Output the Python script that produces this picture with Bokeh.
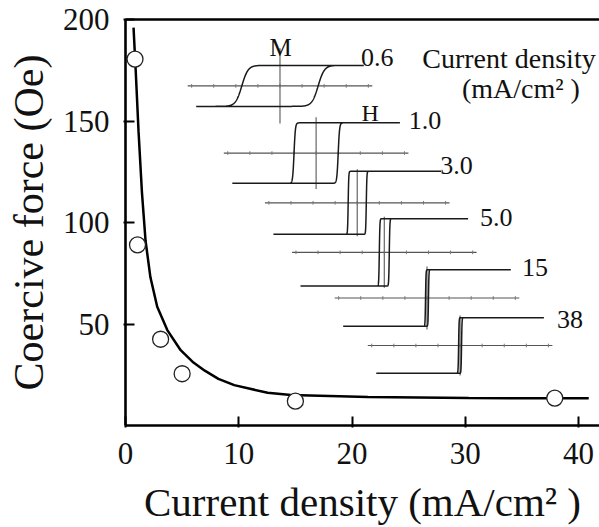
import numpy as np
from bokeh.plotting import figure
from bokeh.models import Range1d, LinearAxis, FixedTicker, Label
from bokeh.embed import file_html
from bokeh.resources import INLINE

# ---- data ----
point_density = [0.84, 1.06, 3.1, 5.0, 15.0, 37.9]
point_coercive = [180.5, 89.0, 42.5, 25.5, 12.0, 13.5]

fit_density = [0.71, 0.9, 1.15, 1.45, 1.77, 2.2, 2.8, 3.69, 4.87, 6.0, 7.0, 8.2, 9.6,
               12.55, 14.6, 21.4, 30.3, 40.9]
fit_coercive = [196, 175, 145, 115, 91, 73, 58.5, 47, 37.1, 31.0, 27.0, 23.0, 19.9,
                16.1, 15.0, 14.0, 13.5, 13.4]

x_ticks = [0, 10, 20, 30, 40]
y_ticks = [50, 100, 150, 200]

# hysteresis-loop insets (one per current density)
loop_labels = ["0.6", "1.0", "3.0", "5.0", "15", "38"]
loop_hc = [3.37, 1.95, 0.80, 0.44, 0.13, 0.13]        # coercive half-width (inset H units)
loop_height = [10.1, 14.9, 15.5, 16.6, 13.9, 13.7]    # saturation half-height
loop_soft = [0.55, 0.12, 0.05, 0.05, 0.04, 0.04]      # transition softness

# ---- layout of the insets (data coords of the plot) ----
loop_cx = [13.64, 16.83, 20.46, 22.85, 26.62, 29.54]
loop_cy = [167.3, 134.2, 109.7, 85.3, 62.8, 39.4]
loop_mext = [18.5, 17.7, 16.5, 17.5, 15.5, 14.8]
label_x = [20.8, 25.0, 27.8, 31.3, 35.0, 38.1]
label_y = [181.3, 150.3, 128.0, 102.5, 78.0, 52.0]
LOOP_L = 7.4
HAXIS_L = 8.15

FONT = "Liberation Serif"

p = figure(width=599, height=527, output_backend="svg", toolbar_location=None,
           x_range=Range1d(0, 41.85), y_range=Range1d(0, 200),
           min_border_left=125, min_border_right=0, min_border_top=19,
           min_border_bottom=101)
p.outline_line_color = None
p.grid.visible = False
p.background_fill_color = "white"
p.border_fill_color = "white"

for ax, ticks in ((p.xaxis[0], x_ticks), (p.yaxis[0], y_ticks)):
    ax.ticker = FixedTicker(ticks=ticks)
    ax.minor_tick_line_color = None
    ax.major_tick_in = 9
    ax.major_tick_out = 2
    ax.axis_line_width = 2.6
    ax.major_tick_line_width = 2
    ax.axis_line_color = "black"
    ax.major_tick_line_color = "black"
    ax.major_label_text_font = FONT
    ax.major_label_text_font_size = "31px"
    ax.major_label_text_color = "#111111"
    ax.axis_label_text_font = FONT
    ax.axis_label_text_font_size = "41px"
    ax.axis_label_text_font_style = "normal"
    ax.axis_label_text_color = "#111111"
p.xaxis[0].major_label_standoff = 15
p.yaxis[0].major_label_standoff = 14
p.xaxis[0].axis_label = "Current density (mA/cm² )"
p.xaxis[0].axis_label_standoff = 12
p.yaxis[0].axis_label = "Coercive force (Oe)"
p.yaxis[0].axis_label_text_font_size = "42px"
p.yaxis[0].axis_label_standoff = 8

top = LinearAxis(ticker=FixedTicker(ticks=[]), axis_line_width=2.6,
                 major_tick_in=0, major_tick_out=0, minor_tick_in=0, minor_tick_out=0,
                 major_label_standoff=0, axis_label_standoff=0,
                 major_label_text_font_size="0px")
p.add_layout(top, "above")

# insets
for i in range(len(loop_labels)):
    cx, cy = loop_cx[i], loop_cy[i]
    h, hc, w = loop_height[i], loop_hc[i], loop_soft[i]
    # H axis
    p.line([cx - HAXIS_L, cx + HAXIS_L], [cy, cy], line_color="#555555", line_width=1.2)
    tk = cx + 1.95 * np.arange(-4, 5)
    p.segment(x0=tk, y0=np.full(9, cy - 0.9), x1=tk, y1=np.full(9, cy + 0.9),
              line_color="#777777", line_width=1)
    # M axis
    p.line([cx, cx], [cy - loop_mext[i], cy + loop_mext[i]], line_color="#666666", line_width=1.2)
    # loop
    H = np.linspace(-LOOP_L, LOOP_L, 1501)
    up = h * np.tanh((H - hc) / w)
    down = h * np.tanh((H + hc) / w)
    xs = np.concatenate([H, H[::-1]]) + cx
    ys = np.concatenate([up, down[::-1]]) + cy
    p.line(xs, ys, line_color="#1a1a1a", line_width=1.5)
    p.add_layout(Label(x=label_x[i], y=label_y[i], text=loop_labels[i],
                       text_font=FONT, text_font_size="26px", text_color="#111111",
                       text_align="left", text_baseline="alphabetic"))

p.add_layout(Label(x=13.7, y=186.0, text="M", text_font=FONT, text_font_size="25px",
                   text_color="#111111", text_align="center", text_baseline="alphabetic"))
p.add_layout(Label(x=21.6, y=154.0, text="H", text_font=FONT, text_font_size="24px",
                   text_color="#111111", text_align="center", text_baseline="alphabetic"))
p.add_layout(Label(x=26.2, y=180.8, text="Current density", text_font=FONT,
                   text_font_size="28px", text_color="#111111", text_align="left",
                   text_baseline="alphabetic"))
p.add_layout(Label(x=29.7, y=166.1, text="(mA/cm² )", text_font=FONT,
                   text_font_size="28px", text_color="#111111", text_align="left",
                   text_baseline="alphabetic"))

# fitted curve and points
p.line(fit_density, fit_coercive, line_color="black", line_width=2.5)
p.scatter(point_density, point_coercive, marker="circle", size=16,
          fill_color="white", line_color="#222222", line_width=1.3)

open("out.html", "w").write(file_html(p, INLINE))
